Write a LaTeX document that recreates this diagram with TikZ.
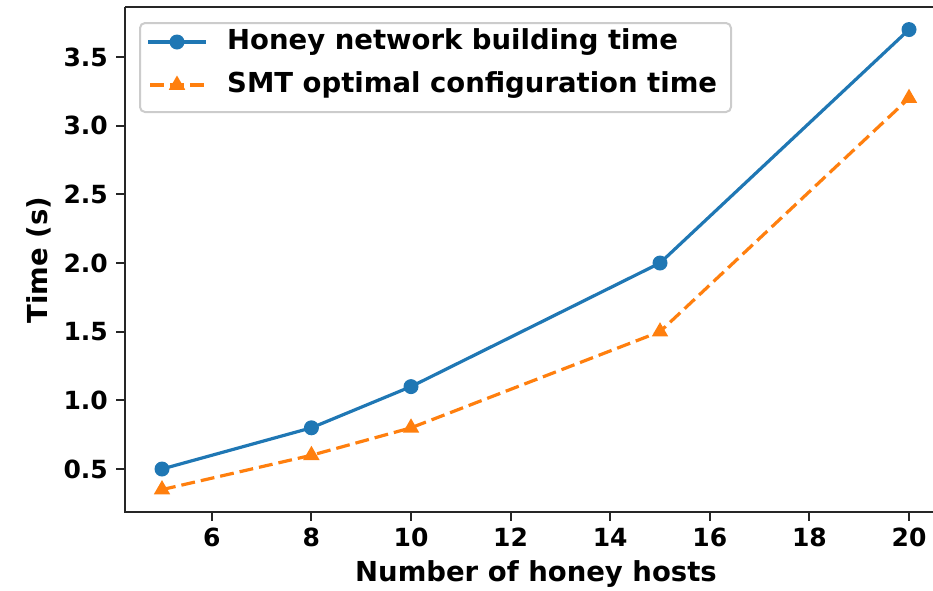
\documentclass[tikz,border=0pt]{standalone}
\usepackage{fontspec}
\setmainfont{DejaVu Sans}
\definecolor{mblue}{HTML}{1F77B4}
\definecolor{morange}{HTML}{FF7F0E}
\usetikzlibrary{shapes.geometric}
\begin{document}
\begin{tikzpicture}[
  lbl/.style={font=\fontsize{25}{30}\selectfont\bfseries, inner sep=0pt},
  biglbl/.style={font=\fontsize{27.5}{33}\selectfont\bfseries, inner sep=0pt},
  spine/.style={line width=2pt, black!85},
  tickmark/.style={line width=2pt, black!85},
  blueline/.style={mblue, line width=3.2pt, line join=round},
  orangeline/.style={morange, line width=3.2pt, dash pattern=on 13.9pt off 6pt},
  bdot/.style={circle, fill=mblue, inner sep=0pt, minimum size=15pt},
  otri/.style={regular polygon, regular polygon sides=3, fill=morange, inner sep=0pt, minimum size=19pt},
]
\useasboundingbox (0pt,-590pt) rectangle (933pt,0pt);
% axes spines
\coordinate (ax0) at (125pt,-512pt);
\coordinate (ax1) at (933pt,-512pt);
\coordinate (ay1) at (125pt,-7pt);
\coordinate (atr) at (933pt,-7pt);
\draw[spine] (ay1) -- (ax0) -- (ax1);
\draw[spine] (ay1) -- (atr);
% data scope
\begin{scope}[shift={(-87pt,-537.67pt)}, x=49.8pt, y=137.33pt]
  % x ticks
  \foreach \t in {6,8,10,12,14,16,18,20}{
    \coordinate (xt\t) at (\t,0.187);
    \draw[tickmark] (xt\t) -- ++(0,-8.75pt);
    \node[lbl, anchor=north] (xl\t) at ([yshift=-16pt]xt\t) {\t};
  }
  % y ticks
  \foreach \t/\n in {0.5/a,1.0/b,1.5/c,2.0/d,2.5/e,3.0/f,3.5/g}{
    \coordinate (yt\n) at (4.257,\t);
    \draw[tickmark] (yt\n) -- ++(-8.75pt,0);
    \node[lbl, anchor=east] (yl\n) at ([xshift=-17pt]yt\n) {\t};
  }
  % data points
  \coordinate (b1) at (5,0.5);
  \coordinate (b2) at (8,0.8);
  \coordinate (b3) at (10,1.1);
  \coordinate (b4) at (15,2.0);
  \coordinate (b5) at (20,3.7);
  \coordinate (o1) at (5,0.35);
  \coordinate (o2) at (8,0.6);
  \coordinate (o3) at (10,0.8);
  \coordinate (o4) at (15,1.5);
  \coordinate (o5) at (20,3.2);
  \draw[blueline] (b1) -- (b2) -- (b3) -- (b4) -- (b5);
  \draw[orangeline] (o1) -- (o2) -- (o3) -- (o4) -- (o5);
  \foreach \i in {1,...,5}{
    \node[bdot] (bm\i) at (b\i) {};
    \node[otri] (om\i) at (o\i) {};
  }
\end{scope}
% axis labels
\node[biglbl] (xlabel) at (536pt,-574pt) {Number of honey hosts};
\node[biglbl, rotate=90] (ylabel) at (39pt,-260pt) {Time (s)};
% legend
\node[draw=black!20, line width=2pt, rounded corners=5pt, fill=white, minimum width=591pt, minimum height=89pt, anchor=north west, inner sep=0pt] (legend) at (139pt,-22pt) {};
\coordinate (l1a) at (148pt,-42pt);
\coordinate (l1b) at (206pt,-42pt);
\coordinate (l2a) at (148pt,-85pt);
\coordinate (l2b) at (206pt,-85pt);
\draw[blueline] (l1a) -- (l1b);
\draw[orangeline, dash pattern=on 13.9pt off 6pt, dash phase=-2pt] (l2a) -- (l2b);
\node[bdot] (lm1) at (177pt,-42pt) {};
\node[otri] (lm2) at (177pt,-85pt) {};
\node[biglbl, anchor=west] (lt1) at (227pt,-42pt) {Honey network building time};
\node[biglbl, anchor=west] (lt2) at (227pt,-85pt) {SMT optimal configuration time};
\end{tikzpicture}
\end{document}
